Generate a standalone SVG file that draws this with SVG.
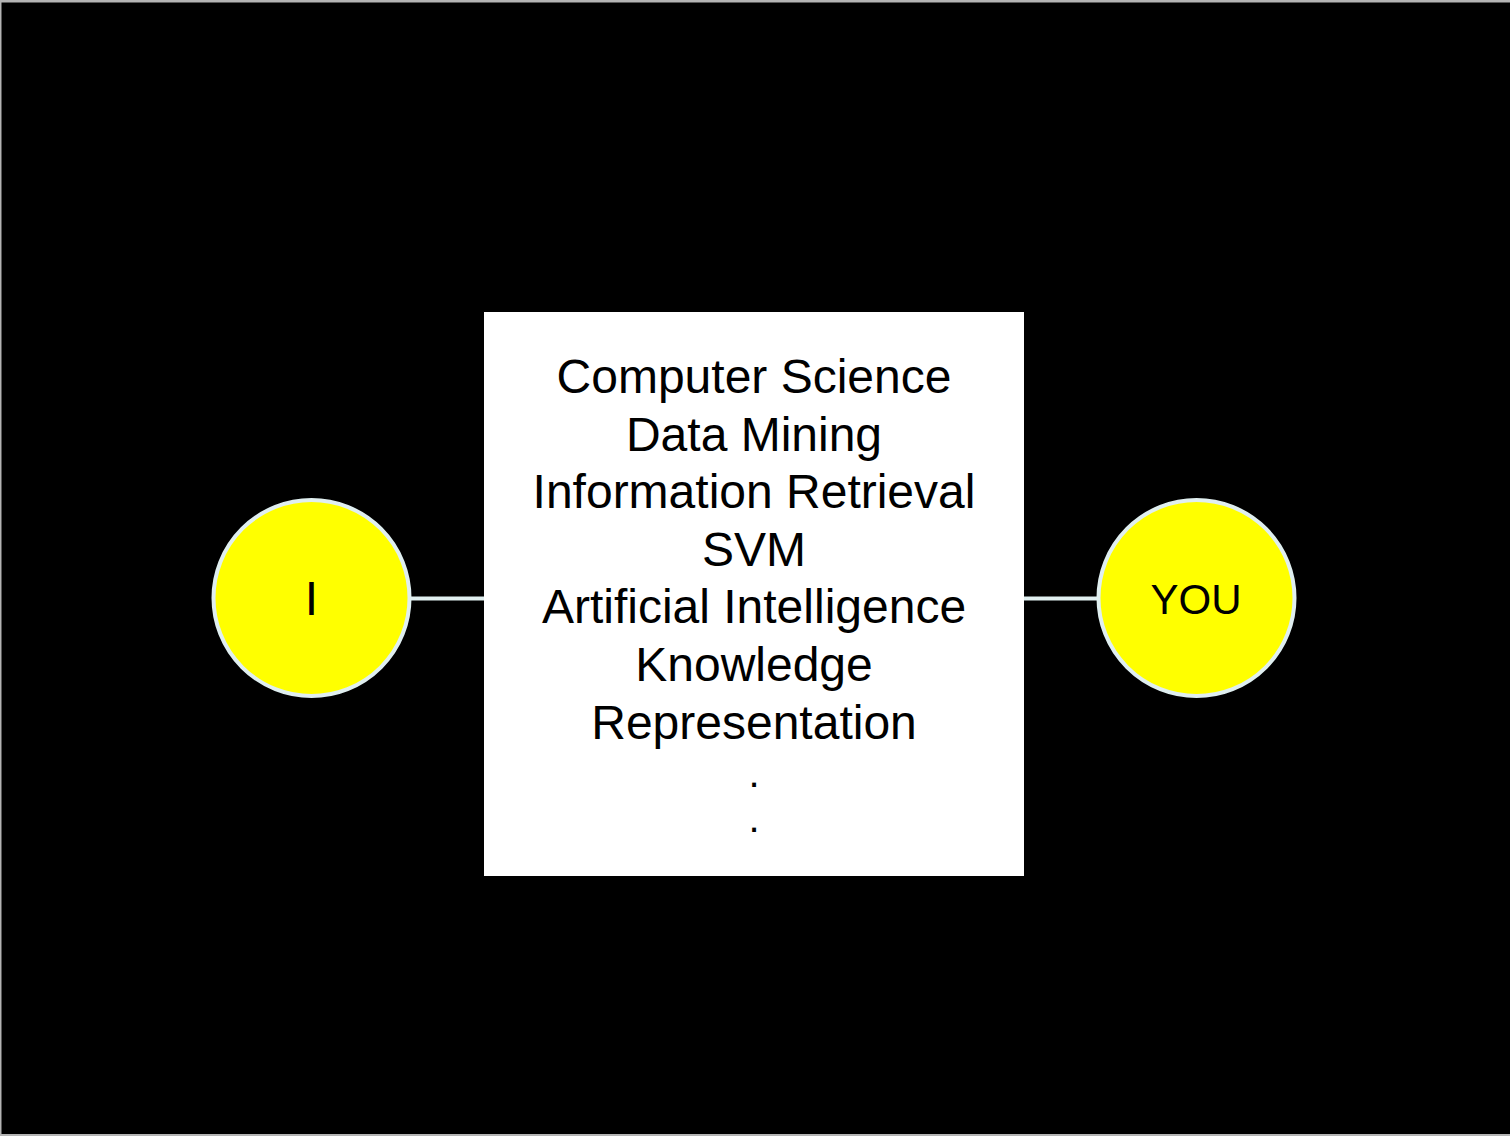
<svg xmlns="http://www.w3.org/2000/svg" width="1510" height="1136" viewBox="0 0 1510 1136">
<style>
.t{font-family:"Liberation Sans",Arial,sans-serif;fill:#000;text-anchor:middle;font-size:48px}
.d{font-size:40px}
.node{fill:#ffff00;stroke:#e0eff0;stroke-width:4}
.conn{stroke:#e0eff0;stroke-width:4;fill:none}
</style>
<rect x="0" y="0" width="1510" height="1136" fill="#b4b4b4"/>
<rect x="1.5" y="2.5" width="1510" height="1131.5" fill="#000"/>
<g id="connectors">
<line class="conn" x1="411" y1="598.5" x2="484" y2="598.5"/>
<line class="conn" x1="1024" y1="598.5" x2="1098" y2="598.5"/>
</g>
<g id="node-topics">
<rect x="484" y="312" width="540" height="564" fill="#fff"/>
<text class="t" x="754" y="393">Computer Science</text>
<text class="t" x="754" y="450.6">Data Mining</text>
<text class="t" x="754" y="508.2">Information Retrieval</text>
<text class="t" x="754" y="565.8">SVM</text>
<text class="t" x="754" y="623.4">Artificial Intelligence</text>
<text class="t" x="754" y="681">Knowledge</text>
<text class="t" x="754" y="738.6">Representation</text>
<text class="t d" x="754" y="787">.</text>
<text class="t d" x="754" y="832">.</text>
</g>
<g id="node-i">
<circle class="node" cx="311.5" cy="598" r="98"/>
<text class="t" x="311.5" y="615">I</text>
</g>
<g id="node-you">
<circle class="node" cx="1196.5" cy="598" r="98"/>
<text class="t" style="font-size:42px" x="1196" y="613.5">YOU</text>
</g>
</svg>
